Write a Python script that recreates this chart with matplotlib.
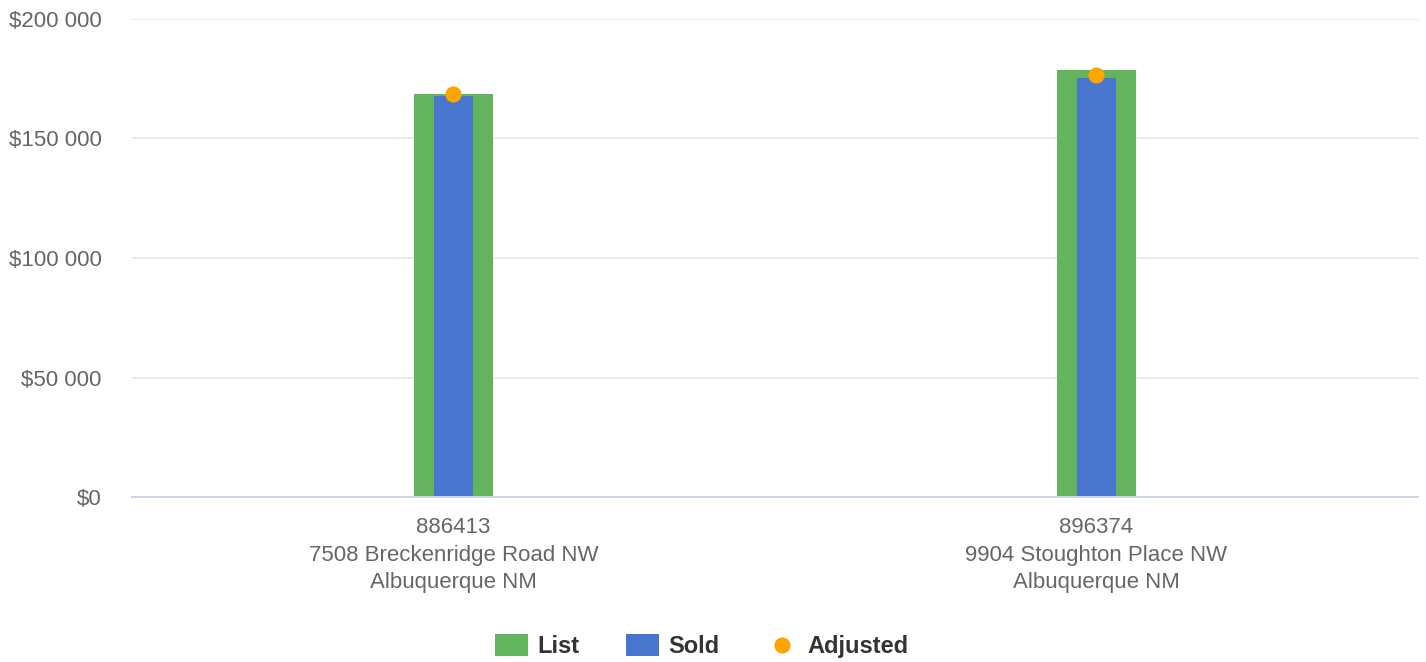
import matplotlib.pyplot as plt
from matplotlib.ticker import FuncFormatter

plt.rcParams['font.family'] = ['Liberation Sans', 'DejaVu Sans']

categories = ['886413\n7508 Breckenridge Road NW\nAlbuquerque NM',
              '896374\n9904 Stoughton Place NW\nAlbuquerque NM']
list_prices = [168600, 178700]
sold_prices = [167900, 175300]
adjusted_prices = [168600, 176600]
y_ticks = [0, 50000, 100000, 150000, 200000]


def money(v, pos):
    return '$' + f'{int(v):,}'.replace(',', ' ')


fig = plt.figure(figsize=(14.26, 6.62), dpi=100)
ax = fig.add_axes([132 / 1426, 165 / 662, 1286 / 1426, 478 / 662])

x = list(range(len(categories)))
b1 = ax.bar(x, list_prices, width=0.1244, color='#63b35f', label='List', zorder=2)
b2 = ax.bar(x, sold_prices, width=0.0622, color='#4875cd', label='Sold', zorder=3)
sc = ax.scatter(x, adjusted_prices, s=135, color='#ffa500', label='Adjusted', zorder=4, linewidths=0)

ax.set_xlim(-0.5, 1.5)
ax.set_ylim(0, 200000)
ax.set_yticks(y_ticks)
ax.yaxis.set_major_formatter(FuncFormatter(money))
ax.set_xticks(x)
ax.set_xticklabels(categories, linespacing=1.4)

ax.grid(axis='y', color='#e6e6e6', linewidth=1.2, zorder=0)
for s in ['top', 'right', 'left']:
    ax.spines[s].set_visible(False)
ax.spines['bottom'].set_color('#ccd6eb')
ax.spines['bottom'].set_linewidth(1.5)
ax.spines['bottom'].set_zorder(5)
ax.tick_params(axis='both', length=0, labelsize=16, labelcolor='#666666')
ax.tick_params(axis='y', pad=22)
ax.tick_params(axis='x', pad=14.5)

leg = fig.legend([b1, b2, sc], ['List', 'Sold', 'Adjusted'], loc='center',
                 bbox_to_anchor=(702 / 1426, 16 / 662), ncol=3, frameon=False,
                 prop={'weight': 'bold', 'size': 17}, handlelength=1.4, handleheight=1.05,
                 handletextpad=0.4, columnspacing=1.95)
for t in leg.get_texts():
    t.set_color('#333333')

plt.savefig('out.png', dpi=100)
